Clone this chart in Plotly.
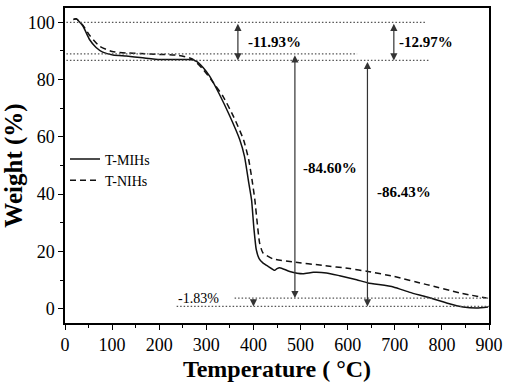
import plotly.graph_objects as go

# ---- data ----
temp_mih = [18, 24, 38, 52, 66, 80, 102, 130, 165, 201, 236, 265, 280, 293, 307, 328, 350, 371, 381,
            390, 396, 401, 406, 412, 420, 431, 445, 450, 456, 477, 505, 527, 555, 583, 619, 643,
            697, 732, 768, 810, 845, 874, 898]
weight_mih = [101, 101.2, 98.7, 94, 91.2, 89.6, 88.6, 88.2, 87.6, 87, 87, 87, 86.3, 84.2, 81.2, 74.8, 67.2, 59, 53.2,
              44, 38, 28, 20.6, 17.5, 16, 14.8, 13.4, 14.0, 14.3, 13, 12.2, 12.7, 12.5, 11.5, 10.1, 9,
              7.6, 5.7, 4.1, 2, 0.6, 0.2, 0.6]

temp_nih = [18, 24, 38, 52, 73, 100, 130, 160, 200, 240, 270, 293, 310, 336, 358, 379, 390, 397, 403, 408,
            413, 420, 441, 484, 548, 604, 643, 697, 768, 838, 895]
weight_nih = [101, 101.2, 99, 95.5, 91.7, 89.8, 89.3, 89.1, 88.8, 88.5, 87.2, 83.6, 80, 74, 67, 59, 52, 45, 38, 30,
              23, 19.5, 17.4, 16.3, 15.1, 14, 13, 11.3, 8.4, 5.5, 3.7]

series_names = ["T-MIHs", "T-NIHs"]

# reference (dotted) levels
ref_levels = [100, 89.0, 86.7, 3.7, 0.8]
ref_x0 = [3, 3, 3, 360, 237]
ref_x1 = [768, 620, 775, 900, 900]

# measurement arrows
arrow_x = [367, 698, 488, 642, 400]
arrow_y0 = [100, 100, 89.0, 86.7, 3.7]
arrow_y1 = [86.7, 86.7, 3.7, 0.8, 0.8]
arrow_both = [True, True, True, True, False]

label_text = ["-11.93%", "-12.97%", "-84.60%", "-86.43%", "-1.83%"]
label_x = [444, 767, 562, 720, 283]
label_y = [93.1, 93.1, 49.2, 40.7, 3.7]
label_bold = [True, True, True, True, False]

x_ticks = list(range(0, 901, 100))
y_ticks = list(range(0, 101, 20))

FONT = "Liberation Serif"

fig = go.Figure()
fig.add_trace(go.Scatter(x=temp_mih, y=weight_mih, mode="lines", name=series_names[0],
                         line=dict(color="#111111", width=1.5, shape="spline", smoothing=0.5)))
fig.add_trace(go.Scatter(x=temp_nih, y=weight_nih, mode="lines", name=series_names[1],
                         line=dict(color="#111111", width=1.5, dash="6px,4px", shape="spline", smoothing=0.5)))

for lv, x0, x1 in zip(ref_levels, ref_x0, ref_x1):
    fig.add_shape(type="line", xref="x", yref="y", x0=x0, x1=x1, y0=lv, y1=lv,
                  line=dict(color="#555555", width=1.3, dash="1.5px,2px"))

for ax_, y0, y1, both in zip(arrow_x, arrow_y0, arrow_y1, arrow_both):
    fig.add_annotation(x=ax_, y=y1, ax=ax_, ay=y0, xref="x", yref="y", axref="x", ayref="y",
                       text="", showarrow=True, arrowhead=2, arrowsize=1.2, arrowwidth=1.2,
                       arrowcolor="#333333", arrowside="end+start" if both else "end",
                       startarrowhead=2, startarrowsize=1.2, standoff=0, startstandoff=0)

for t, lx, ly, b in zip(label_text, label_x, label_y, label_bold):
    fig.add_annotation(x=lx, y=ly, xref="x", yref="y", text=t, showarrow=False,
                       font=dict(family=FONT, size=15 if b else 14, color="black",
                                 weight="bold" if b else "normal"))

axis_common = dict(showline=True, linecolor="black", linewidth=1.5, mirror=True,
                   ticks="outside", ticklen=5, tickwidth=1.3, tickcolor="black",
                   showgrid=False, zeroline=False, automargin=False,
                   tickfont=dict(family=FONT, size=18, color="black"))

fig.update_xaxes(range=[0, 900], tickvals=x_ticks,
                 minor=dict(dtick=50, tick0=0, ticks="outside", ticklen=3, tickwidth=1.3, tickcolor="black"),
                 title=dict(text="Temperature ( °C)", standoff=6,
                            font=dict(family=FONT, size=24, color="black", weight="bold")),
                 **axis_common)
fig.update_yaxes(range=[-5, 105], tickvals=y_ticks,
                 minor=dict(dtick=10, tick0=0, ticks="outside", ticklen=3, tickwidth=1.3, tickcolor="black"),
                 title=dict(text="Weight (%)", standoff=0,
                            font=dict(family=FONT, size=25, color="black", weight="bold")),
                 **axis_common)

fig.update_layout(
    width=510, height=386,
    margin=dict(l=65, r=21, t=8, b=63),
    plot_bgcolor="white", paper_bgcolor="white",
    showlegend=True,
    legend=dict(x=0.0, y=0.57, xanchor="left", yanchor="top", bgcolor="rgba(0,0,0,0)",
                font=dict(family=FONT, size=14, color="black"), tracegroupgap=0),
)

fig.write_html("out.html", config={"displayModeBar": False},
               post_script="document.body.style.margin='0';")
